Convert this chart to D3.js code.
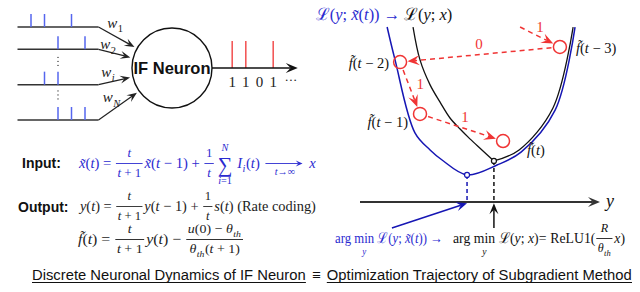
<!DOCTYPE html>
<html>
<head>
<meta charset="utf-8">
<script src="https://cdn.jsdelivr.net/npm/d3@7"></script>
<style>
  body { margin: 0; background: #fff; }
  svg { display: block; }
  text { white-space: pre; }
  .sans { font-family: 'Liberation Sans', Arial, sans-serif; }
  .m { font-family: 'Liberation Serif', 'DejaVu Serif', serif; }
</style>
</head>
<body>
<svg id="chart" width="640" height="292"></svg>
<script>
// ---- data ----
// input spike trains (time steps) for channels 1, 2, i, N
const inputSpikes = [[1, 2, 4], [3, 5], [2, 3], [3, 4, 5]]
const channelSlots = [0, 1.2, 3.1, 5]
const dotSlots = [1.85, 3.65]
const weightSubs = ['1', '2', 'i', 'N']
const outputSpikes = [1, 2, 4]
const outputBits = ['1', '1', '0', '1']

// loss curves, [y, loss] in diagram units
const lossBlue = [[1.13, 7.29], [1.46, 5.92], [2.29, 2.88], [2.92, 2.17], [3.42, 1.75],
  [4.46, 1.13], [5.71, 1.54], [6.71, 2.08], [8.13, 3.83], [8.96, 7.29]]
const lossBlackLeft = [[2.21, 7.29], [2.5, 5.92], [2.92, 4.88], [3.33, 4.17], [3.75, 3.5],
  [4.17, 3.04], [4.58, 2.63], [5.08, 2.17], [5.58, 1.71]]
const lossBlackRight = [[5.58, 1.71], [6.63, 2.17], [8.04, 3.92], [8.88, 7.29]]
const blueMin = [4.46, 1.13]
const blackMin = [5.58, 1.71]

// subgradient trajectory: entry point, then f(t-3) .. f(t)
const trajStart = [6.67, 7.29]
const trajectory = [[8.33, 6.46], [1.67, 5.83], [2.5, 3.67], [5.96, 2.54]]
const trajNames = ['t − 3', 't − 2', 't − 1', 't']
const stepBits = ['1', '0', '1', '1']

const blue = '#2b2bd0', curveBlue = '#1616b4', spikeBlue = '#5566ee', red = '#f03434', ink = '#222'

const svg = d3.select('#chart')

// ---- tiny math typesetter ----
function word(g, s, x, y, fs, col, upright) {
  const t = g.append('text').attr('class', 'm').attr('x', x).attr('y', y)
    .attr('font-size', fs).attr('fill', col)
  if (upright) t.text(s)
  else {
    for (const m of s.match(/([A-Za-zθ]\u0303?)+|[^A-Za-zθ]+/g)) {
      t.append('tspan').attr('font-style', /[A-Za-zθ]/.test(m[0]) ? 'italic' : null).text(m)
    }
  }
  return t.node().getComputedTextLength()
}

function put(g, items, x, y, fs, col) {
  for (const it of items) {
    if (typeof it === 'string') x += word(g, it, x, y, fs, col, false)
    else if (it.up) x += word(g, it.up, x, y, fs, col, true)
    else if (it.sub) x = put(g, it.sub, x + 0.5, y + fs * 0.28, fs * 0.7, col) + 0.5
    else if (it.frac) {
      const s = fs * 0.88
      const gn = g.append('g'), gd = g.append('g')
      const wn = put(gn, it.frac[0], 0, y - fs * 0.72, s, col)
      const wd = put(gd, it.frac[1], 0, y + fs * 0.62, s, col)
      const w = Math.max(wn, wd) + 3
      gn.attr('transform', `translate(${x + 1 + (w - wn) / 2},0)`)
      gd.attr('transform', `translate(${x + 1 + (w - wd) / 2},0)`)
      g.append('line').attr('x1', x + 1).attr('x2', x + 1 + w)
        .attr('y1', y - fs * 0.3).attr('y2', y - fs * 0.3)
        .attr('stroke', col).attr('stroke-width', 0.9)
      x += w + 3
    } else if (it.sum) {
      const gs = g.append('g'), gt = g.append('g'), gb = g.append('g')
      const ws = word(gs, '∑', 0, y + fs * 0.25, fs * 1.4, col, true)
      const wt = put(gt, it.top, 0, y - fs * 1.15, fs * 0.7, col)
      const wb = put(gb, it.bot, 0, y + fs * 1.05, fs * 0.7, col)
      const w = Math.max(ws, wt, wb)
      gs.attr('transform', `translate(${x + 2 + (w - ws) / 2},0)`)
      gt.attr('transform', `translate(${x + 2 + (w - wt) / 2},0)`)
      gb.attr('transform', `translate(${x + 2 + (w - wb) / 2},0)`)
      x += w + 7
    } else if (it.under) {
      const w = word(g, it.under, x, y, fs, col, true)
      const gb = g.append('g')
      const wb = put(gb, it.below, 0, y + fs * 0.78, fs * 0.7, col)
      gb.attr('transform', `translate(${x + (w - wb) / 2},0)`)
      x += w
    } else if (it.arrow) {
      const w = it.arrow, ay = y - fs * 0.3
      arrow(g, x + 2, ay, x + w, ay, col, 0.9, 7, 3)
      const gb = g.append('g')
      const wb = put(gb, it.below, 0, y + fs * 0.45, fs * 0.7, col)
      gb.attr('transform', `translate(${x + 2 + (w - wb) / 2},0)`)
      x += w + 3
    }
  }
  return x
}

function fit(g, x0, x1) {
  const b = g.node().getBBox()
  const k = (x1 - x0) / b.width
  g.attr('transform', `translate(${x0},0) scale(${k},1) translate(${-b.x},0)`)
}

function arrow(g, x1, y1, x2, y2, col, sw, L, W, dash) {
  const a = Math.atan2(y2 - y1, x2 - x1)
  const back = L * 0.6
  g.append('line').attr('x1', x1).attr('y1', y1)
    .attr('x2', x2 - Math.cos(a) * back).attr('y2', y2 - Math.sin(a) * back)
    .attr('stroke', col).attr('stroke-width', sw).attr('stroke-dasharray', dash || null)
  g.append('path').attr('d', `M0,0L${-L},${-W}L${-back},0L${-L},${W}Z`)
    .attr('transform', `translate(${x2},${y2}) rotate(${a * 180 / Math.PI})`)
    .attr('fill', col)
}

// ---- left: IF neuron ----
const tIn = d3.scaleLinear().domain([0, 6]).range([17.5, 98.5])
const row = d3.scaleLinear().domain([0, 5]).range([27, 120])
const tOut = d3.scaleLinear().domain([0, 6]).range([218.5, 300.5])
const cx = 172, cy = 68, rad = 40

const left = svg.append('g')
channelSlots.forEach((slot, i) => {
  const y = row(slot)
  left.append('line').attr('x1', tIn(0)).attr('x2', tIn(6)).attr('y1', y).attr('y2', y)
    .attr('stroke', '#333').attr('stroke-width', 1.5)
  left.selectAll(null).data(inputSpikes[i]).join('line')
    .attr('x1', d => tIn(d)).attr('x2', d => tIn(d))
    .attr('y1', y).attr('y2', y - 13)
    .attr('stroke', spikeBlue).attr('stroke-width', 1.5)
  const x0 = tIn(6), dx = cx - x0, dy = cy - y, L = Math.hypot(dx, dy)
  const k = (L - rad - 3) / L
  arrow(left, x0, y, x0 + dx * k, y + dy * k, ink, 1.2, 10, 4)
  const gw = left.append('g')
  const ww = put(gw, ['w', { sub: [weightSubs[i]] }], 0, 0, 15, ink)
  const mx = x0 + dx * k / 2 - (i ? 6 : 1), my = y + dy * k / 2 - (i ? 4 : 9)
  gw.attr('transform', `translate(${mx - ww / 2},${my})`)
})
dotSlots.forEach(s => {
  left.selectAll(null).data([-4, 0, 4]).join('circle')
    .attr('cx', tIn(3)).attr('cy', d => row(s) + d).attr('r', 0.7).attr('fill', '#333')
})

left.append('circle').attr('cx', cx).attr('cy', cy).attr('r', rad)
  .attr('fill', '#fff').attr('stroke', '#111').attr('stroke-width', 1.4)
left.append('text').attr('class', 'sans').attr('x', cx).attr('y', cy + 6)
  .attr('text-anchor', 'middle').attr('font-size', 16.5).attr('font-weight', 'bold')
  .attr('fill', '#111').text('IF Neuron')

left.selectAll(null).data(outputSpikes).join('line')
  .attr('x1', d => tOut(d)).attr('x2', d => tOut(d)).attr('y1', cy).attr('y2', cy - 27)
  .attr('stroke', red).attr('stroke-width', 1.3)
arrow(left, cx + rad, cy, tOut(5.8), cy, '#111', 1.4, 12, 5)
left.selectAll(null).data(outputBits).join('text').attr('class', 'm')
  .attr('x', (d, i) => tOut(i + 1)).attr('y', 87).attr('text-anchor', 'middle')
  .attr('font-size', 15).attr('fill', '#222').text(d => d)
left.append('text').attr('class', 'm').attr('x', tOut(5.3)).attr('y', 84)
  .attr('text-anchor', 'middle').attr('font-size', 13).attr('fill', '#222').text('···')

// ---- left: equations ----
const eq = svg.append('g')
eq.append('text').attr('class', 'sans').attr('x', 22).attr('y', 168).attr('font-size', 14)
  .attr('font-weight', 'bold').attr('fill', '#111').text('Input:')
eq.append('text').attr('class', 'sans').attr('x', 18).attr('y', 212).attr('font-size', 14)
  .attr('font-weight', 'bold').attr('fill', '#111').text('Output:')

const e1 = eq.append('g')
put(e1, ['x\u0303(t) = ', { frac: [['t'], ['t + 1']] }, 'x\u0303(t − 1) + ', { frac: [['1'], ['t']] },
  { sum: true, top: ['N'], bot: ['i=1'] }, 'I', { sub: ['i'] }, '(t) ',
  { arrow: 40, below: ['t→∞'] }, ' x'], 0, 168, 15, blue)
fit(e1, 78, 316)

const e2 = eq.append('g')
put(e2, ['y(t) = ', { frac: [['t'], ['t + 1']] }, 'y(t − 1) + ', { frac: [['1'], ['t']] },
  's(t) ', { up: '(Rate coding)' }], 0, 211, 15, ink)
fit(e2, 78, 316)

const e3 = eq.append('g')
put(e3, ['f\u0303(t) = ', { frac: [['t'], ['t + 1']] }, 'y(t) − ',
  { frac: [['u(0) − θ', { sub: ['th'] }], ['θ', { sub: ['th'] }, '(t + 1)']] }], 0, 244, 15, ink)
fit(e3, 78, 243)

// ---- right: loss landscape ----
const xS = d3.scaleLinear().domain([0, 10]).range([360, 600])
const lS = d3.scaleLinear().domain([0, 8]).range([202, 10])
const right = svg.append('g')
const curve = d3.line().x(d => xS(d[0])).y(d => lS(d[1])).curve(d3.curveCatmullRom.alpha(0.5))

right.append('path').attr('d', curve(lossBlue)).attr('fill', 'none')
  .attr('stroke', curveBlue).attr('stroke-width', 1.5)
right.append('path').attr('d', curve(lossBlackLeft)).attr('fill', 'none')
  .attr('stroke', '#111').attr('stroke-width', 1.3)
right.append('path').attr('d', curve(lossBlackRight)).attr('fill', 'none')
  .attr('stroke', '#111').attr('stroke-width', 1.3)

// title
const ttl = right.append('g')
let tx = put(ttl, ['ℒ(y; x\u0303(t)) → '], 0, 20, 17, blue)
put(ttl, ['ℒ(y; x)'], tx, 20, 17, '#111')
fit(ttl, 316, 452)

// axis
arrow(right, xS(0), lS(0), xS(10), lS(0), '#333', 2, 12, 5)
right.append('text').attr('class', 'm').attr('x', xS(10) + 6).attr('y', lS(0) + 5)
  .attr('font-size', 18).attr('font-style', 'italic').attr('fill', '#111').text('y')

// minimisers
right.append('line').attr('x1', xS(blueMin[0])).attr('x2', xS(blueMin[0]))
  .attr('y1', lS(blueMin[1])).attr('y2', lS(0))
  .attr('stroke', curveBlue).attr('stroke-width', 1.5).attr('stroke-dasharray', '4,3')
right.append('line').attr('x1', xS(blackMin[0])).attr('x2', xS(blackMin[0]))
  .attr('y1', lS(blackMin[1])).attr('y2', lS(0))
  .attr('stroke', '#111').attr('stroke-width', 1.5).attr('stroke-dasharray', '4,3')
right.append('circle').attr('cx', xS(blueMin[0])).attr('cy', lS(blueMin[1])).attr('r', 2.5)
  .attr('fill', '#fff').attr('stroke', curveBlue).attr('stroke-width', 1.2)
right.append('circle').attr('cx', xS(blackMin[0])).attr('cy', lS(blackMin[1])).attr('r', 2.5)
  .attr('fill', '#fff').attr('stroke', '#111').attr('stroke-width', 1.2)

arrow(right, xS(1.33), lS(-1.08), xS(blueMin[0]), lS(-0.05), curveBlue, 1.5, 11, 4.5)
arrow(right, xS(blackMin[0]), lS(-1.08), xS(blackMin[0]), lS(-0.05), '#111', 1.5, 11, 4.5)

// trajectory
const rr = 6.5
const pts = [trajStart, ...trajectory].map(d => [xS(d[0]), lS(d[1])])
for (let i = 0; i < pts.length - 1; i++) {
  const [x1, y1] = pts[i], [x2, y2] = pts[i + 1]
  const dx = x2 - x1, dy = y2 - y1, L = Math.hypot(dx, dy), ux = dx / L, uy = dy / L
  const s0 = i ? rr + 2 : 0, s1 = rr + 1
  arrow(right, x1 + ux * s0, y1 + uy * s0, x2 - ux * s1, y2 - uy * s1, red, 1.5, 12, 5, '5,4')
  let nx = uy, ny = -ux
  if (ny > 0) { nx = -nx; ny = -ny }
  right.append('text').attr('class', 'm').attr('x', (x1 + x2) / 2 + nx * 11 - (i ? 0 : 5))
    .attr('y', (y1 + y2) / 2 + ny * 11 + 5).attr('text-anchor', 'middle')
    .attr('font-size', 15).attr('fill', red).text(stepBits[i])
}
right.selectAll(null).data(trajectory).join('circle')
  .attr('cx', d => xS(d[0])).attr('cy', d => lS(d[1])).attr('r', rr)
  .attr('fill', 'none').attr('stroke', red).attr('stroke-width', 1.5)

const trajLabelPos = [[16, 6, 'start'], [-11, 6, 'end'], [-12, 13, 'end'], [24, 14, 'start']]
trajectory.forEach((d, i) => {
  const g = right.append('g')
  const w = put(g, ['f\u0303(' + trajNames[i] + ')'], 0, 0, 14.5, '#111')
  const [ox, oy, anchor] = trajLabelPos[i]
  const x = xS(d[0]) + ox - (anchor === 'end' ? w : 0)
  g.attr('transform', `translate(${x},${lS(d[1]) + oy})`)
})

// argmin annotations
const a1 = right.append('g')
put(a1, [{ up: 'arg ' }, { under: 'min', below: ['y'] }, ' ℒ(y; x\u0303(t)) →'], 0, 243, 15, blue)
fit(a1, 335, 443)
const a2 = right.append('g')
put(a2, [{ up: 'arg ' }, { under: 'min', below: ['y'] }, ' ℒ(y; x)= ', { up: 'ReLU1(' },
  { frac: [['R'], ['θ', { sub: ['th'] }]] }, 'x)'], 0, 243, 15, '#111')
fit(a2, 453, 625)

// ---- caption ----
const cap = svg.append('g').attr('class', 'sans')
const capParts = ['Discrete Neuronal Dynamics of IF Neuron', '≡', 'Optimization Trajectory of Subgradient Method']
let cx0 = 0
capParts.forEach((s, i) => {
  const t = cap.append('text').attr('x', cx0).attr('y', 280).attr('font-size', 14.5)
    .attr('fill', '#111').text(s)
  const w = t.node().getComputedTextLength()
  if (i !== 1) cap.append('line').attr('x1', cx0).attr('x2', cx0 + w).attr('y1', 282.5).attr('y2', 282.5)
    .attr('stroke', '#111').attr('stroke-width', 1)
  cx0 += w + 6
})
fit(cap, 32, 632)
</script>
</body>
</html>
